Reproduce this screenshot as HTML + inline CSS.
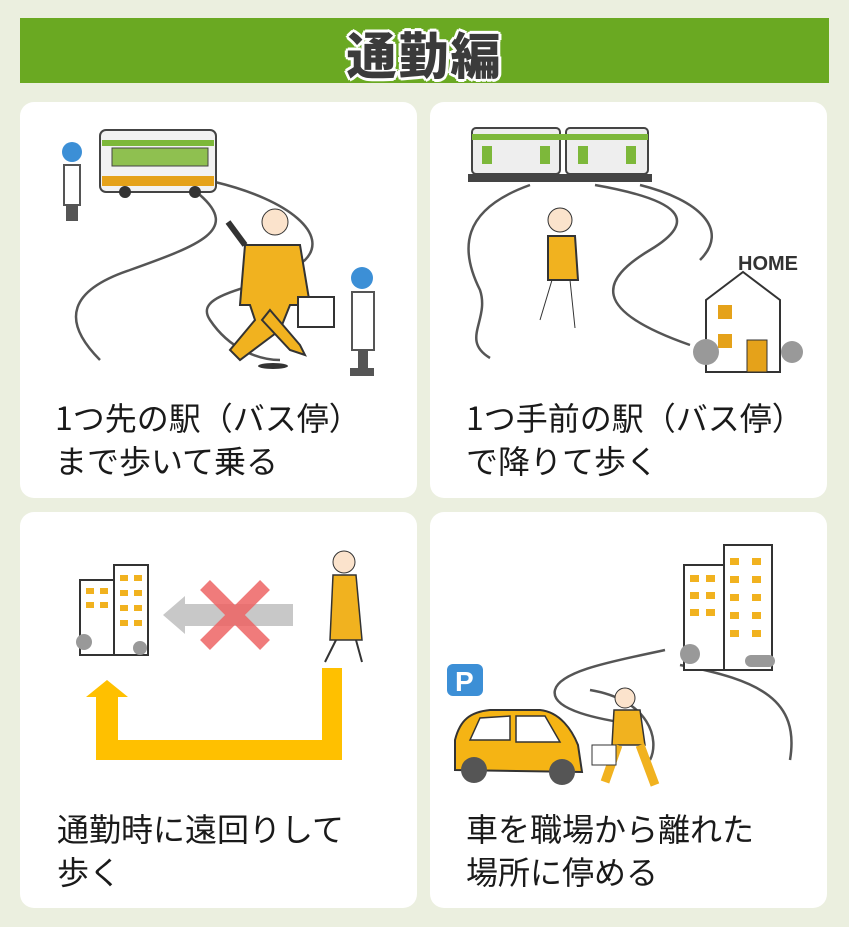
<!DOCTYPE html>
<html><head><meta charset="utf-8">
<style>
html,body{margin:0;padding:0}
body{width:849px;height:927px;background:#ebefdf;position:relative;overflow:hidden;font-family:"Liberation Sans","Noto Sans CJK JP",sans-serif}
.bar{position:absolute;left:20px;top:18px;width:809px;height:65px;background:#6aa922}
.title{position:absolute;left:0;width:849px;top:17px;text-align:center;font-size:50px;font-weight:900;color:#3b3b3b;letter-spacing:2px;
text-shadow:3px 0 #fff,-3px 0 #fff,0 3px #fff,0 -3px #fff,2px 2px #fff,-2px -2px #fff,2px -2px #fff,-2px 2px #fff;font-family:"Noto Sans CJK JP",sans-serif}
.p{position:absolute;background:#fff;border-radius:14px;width:397px;height:396px}
.t{position:absolute;font-size:32px;color:#1a1a1a;line-height:43px;font-family:"Noto Sans CJK JP",sans-serif;white-space:nowrap}
svg{position:absolute;left:0;top:0}
</style></head><body>
<div class="bar"></div>
<div class="title">通勤編</div>

<div class="p" style="left:20px;top:102px"></div>
<div class="p" style="left:430px;top:102px"></div>
<div class="p" style="left:20px;top:512px"></div>
<div class="p" style="left:430px;top:512px"></div>

<svg width="849" height="927" viewBox="0 0 849 927">
<g fill="none" stroke="#555" stroke-width="2.5">
<path d="M100 360 C60 320 70 290 130 270 C200 245 240 230 200 195"/>
<path d="M215 182 C290 200 330 235 305 260 C270 290 190 290 210 320 C230 350 260 360 280 360"/>
</g>
<circle cx="72" cy="152" r="10" fill="#3c8fd6"/><rect x="64" y="165" width="16" height="40" fill="#fff" stroke="#555" stroke-width="2"/><rect x="66" y="205" width="12" height="16" fill="#555"/>
<rect x="100" y="130" width="116" height="62" rx="6" fill="#f2f2f2" stroke="#444" stroke-width="2"/>
<rect x="102" y="140" width="112" height="6" fill="#7db83a"/><rect x="102" y="176" width="112" height="10" fill="#e5a21a"/>
<rect x="112" y="148" width="96" height="18" fill="#8fc050" stroke="#444"/>
<circle cx="125" cy="192" r="6" fill="#333"/><circle cx="195" cy="192" r="6" fill="#333"/>
<circle cx="362" cy="278" r="11" fill="#3c8fd6"/><rect x="352" y="292" width="22" height="58" fill="#fff" stroke="#555" stroke-width="2"/><rect x="358" y="350" width="10" height="18" fill="#555"/><rect x="350" y="368" width="24" height="8" fill="#555"/>
<circle cx="275" cy="222" r="13" fill="#fbe3cc" stroke="#333"/>
<path d="M245 245 L300 245 L310 305 L290 305 L280 330 L240 360 L230 350 L255 320 L250 305 L240 305 Z" fill="#f1b21f" stroke="#333" stroke-width="2"/>
<path d="M270 310 L300 345 L305 355 L290 350 L262 320Z" fill="#f1b21f" stroke="#333" stroke-width="2"/>
<path d="M245 245 L228 222" stroke="#333" stroke-width="6"/>
<rect x="298" y="297" width="36" height="30" fill="#fff" stroke="#333" stroke-width="2"/>
<ellipse cx="273" cy="366" rx="15" ry="3" fill="#333"/>
<g fill="none" stroke="#555" stroke-width="2.5">
<path d="M530 185 C460 210 460 250 480 290 C490 320 460 340 490 358"/>
<path d="M595 185 C680 200 700 220 650 250 C600 280 590 310 690 345"/>
<path d="M640 185 C700 200 730 230 700 260"/>
</g>
<rect x="472" y="128" width="88" height="46" rx="4" fill="#eee" stroke="#444" stroke-width="2"/>
<rect x="566" y="128" width="82" height="46" rx="4" fill="#eee" stroke="#444" stroke-width="2"/>
<rect x="472" y="134" width="176" height="6" fill="#7db83a"/>
<rect x="482" y="146" width="10" height="18" fill="#7db83a"/><rect x="540" y="146" width="10" height="18" fill="#7db83a"/><rect x="578" y="146" width="10" height="18" fill="#7db83a"/><rect x="626" y="146" width="10" height="18" fill="#7db83a"/>
<rect x="468" y="174" width="184" height="8" fill="#444"/>
<circle cx="560" cy="220" r="12" fill="#fbe3cc" stroke="#333"/>
<path d="M548 236 L575 236 L578 280 L548 280Z" fill="#f1b21f" stroke="#333" stroke-width="2"/>
<path d="M552 280 L540 320 M570 280 L575 328" stroke="#333" stroke-width="1" fill="none"/>
<text x="738" y="270" font-family="Liberation Sans" font-weight="bold" font-size="20" fill="#333">HOME</text>
<path d="M706 300 L743 272 L780 300 L780 372 L706 372Z" fill="#fff" stroke="#333" stroke-width="2"/>
<rect x="747" y="340" width="20" height="32" fill="#e5a21a" stroke="#333"/>
<rect x="718" y="305" width="14" height="14" fill="#e5a21a"/><rect x="718" y="334" width="14" height="14" fill="#e5a21a"/>
<circle cx="706" cy="352" r="13" fill="#999"/><circle cx="792" cy="352" r="11" fill="#999"/>
<rect x="80" y="580" width="34" height="75" fill="#fff" stroke="#333" stroke-width="2"/>
<rect x="114" y="565" width="34" height="90" fill="#fff" stroke="#333" stroke-width="2"/>
<g fill="#f1b21f"><rect x="86" y="588" width="8" height="6"/><rect x="100" y="588" width="8" height="6"/><rect x="86" y="602" width="8" height="6"/><rect x="100" y="602" width="8" height="6"/><rect x="120" y="575" width="8" height="6"/><rect x="134" y="575" width="8" height="6"/><rect x="120" y="590" width="8" height="6"/><rect x="134" y="590" width="8" height="6"/><rect x="120" y="605" width="8" height="6"/><rect x="134" y="605" width="8" height="6"/><rect x="120" y="620" width="8" height="6"/><rect x="134" y="620" width="8" height="6"/></g>
<circle cx="84" cy="642" r="8" fill="#999"/><circle cx="140" cy="648" r="7" fill="#999"/>
<path d="M293 604 L293 626 L185 626 L185 634 L163 615 L185 596 L185 604Z" fill="#c8c8c8"/>
<path d="M205 585 L265 645 M265 585 L205 645" stroke="#ee6464" stroke-width="14" opacity="0.85"/>
<path d="M342 668 L342 760 L96 760 L96 697 L86 697 L107 680 L128 697 L118 697 L118 740 L322 740 L322 668Z" fill="#ffc000"/>
<circle cx="344" cy="562" r="11" fill="#fbe3cc" stroke="#333"/>
<path d="M333 575 L356 575 L362 640 L330 640Z" fill="#f1b21f" stroke="#333" stroke-width="1.5"/>
<path d="M336 640 L325 662 M356 640 L362 662" stroke="#333" stroke-width="2"/>
<g fill="none" stroke="#555" stroke-width="2.5">
<path d="M665 650 C620 660 560 670 555 690 C550 710 600 720 640 725"/>
<path d="M680 665 C760 680 800 700 790 760"/>
<path d="M590 690 C650 700 660 740 650 760"/>
</g>
<rect x="684" y="565" width="40" height="105" fill="#fff" stroke="#333" stroke-width="2"/>
<rect x="724" y="545" width="48" height="125" fill="#fff" stroke="#333" stroke-width="2"/>
<g fill="#f1b21f"><rect x="690" y="575" width="9" height="7"/><rect x="706" y="575" width="9" height="7"/><rect x="690" y="592" width="9" height="7"/><rect x="706" y="592" width="9" height="7"/><rect x="690" y="609" width="9" height="7"/><rect x="706" y="609" width="9" height="7"/><rect x="730" y="558" width="9" height="7"/><rect x="752" y="558" width="9" height="7"/><rect x="730" y="576" width="9" height="7"/><rect x="752" y="576" width="9" height="7"/><rect x="730" y="594" width="9" height="7"/><rect x="752" y="594" width="9" height="7"/><rect x="730" y="612" width="9" height="7"/><rect x="752" y="612" width="9" height="7"/><rect x="730" y="630" width="9" height="7"/><rect x="752" y="630" width="9" height="7"/></g>
<circle cx="690" cy="654" r="10" fill="#999"/><rect x="745" y="655" width="30" height="12" rx="6" fill="#999"/>
<rect x="447" y="664" width="36" height="32" rx="6" fill="#3c8fd6"/><text x="455" y="691" font-family="Liberation Sans" font-weight="bold" font-size="28" fill="#fff">P</text>
<path d="M455 770 L455 740 C460 720 470 712 490 710 L540 710 C560 712 572 730 578 745 L582 772 Z" fill="#f5b414" stroke="#333" stroke-width="2"/>
<path d="M470 740 L480 718 L510 716 L510 740Z M516 716 L545 716 L560 742 L516 742Z" fill="#fff" stroke="#333" stroke-width="1.5"/>
<circle cx="474" cy="770" r="13" fill="#555"/><circle cx="562" cy="772" r="13" fill="#555"/>
<circle cx="625" cy="698" r="10" fill="#fbe3cc" stroke="#333"/>
<path d="M614 710 L640 710 L645 745 L612 745Z" fill="#f1b21f" stroke="#333" stroke-width="1.5"/>
<path d="M618 745 L605 782 M640 745 L655 785" stroke="#f1b21f" stroke-width="9"/>
<rect x="592" y="745" width="24" height="20" fill="#fff" stroke="#333"/>
</svg>

<div class="t" style="left:55px;top:396px">1つ先の駅（バス停）<br>まで歩いて乗る</div>
<div class="t" style="left:466px;top:396px">1つ手前の駅（バス停）<br>で降りて歩く</div>
<div class="t" style="left:57px;top:807px">通勤時に遠回りして<br>歩く</div>
<div class="t" style="left:466px;top:807px">車を職場から離れた<br>場所に停める</div>
</body></html>
